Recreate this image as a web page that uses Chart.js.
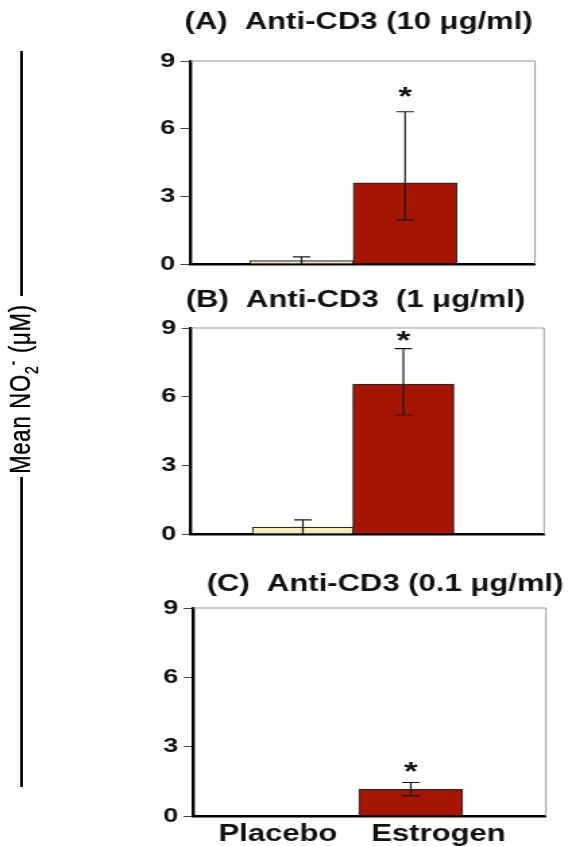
<!DOCTYPE html>
<html>
<head>
<meta charset="utf-8">
<script src="https://cdn.jsdelivr.net/npm/chart.js@4.4.1/dist/chart.umd.min.js"></script>
<style>
  html, body { margin: 0; padding: 0; background: #fff; }
  #fig { position: relative; width: 424px; height: 846px; transform: scaleX(1.349); transform-origin: 0 0; }
  #fig canvas { position: absolute; left: 0; }
  .rule { position: absolute; left: 15px; width: 2px; background: #000; }
  #ylab { position: absolute; left: 16px; top: 389px; transform: translate(-50%, -50%) rotate(-90deg);
          font: 22px "Liberation Sans", Arial, sans-serif; letter-spacing: 0.8px; white-space: nowrap; color: #000; line-height: 1;
          -webkit-text-stroke: 0.3px #000; }
  #ylab sub { font-size: 14px; }
  #ylab sup { font-size: 14px; }
</style>
</head>
<body>
<div id="fig">
  <div class="rule" style="top:51px;height:245px"></div>
  <div class="rule" style="top:477px;height:310px"></div>
  <div id="ylab">Mean NO<sub>2</sub><sup>-</sup> (μM)</div>
  <canvas id="chartA" width="424" height="280" style="top:0"></canvas>
  <canvas id="chartB" width="424" height="270" style="top:280px"></canvas>
  <canvas id="chartC" width="424" height="296" style="top:550px"></canvas>
</div>
<script>
const categories = ['Placebo', 'Estrogen'];
const yTicks = [0, 3, 6, 9];
const starred = [false, true];

/* (A) 10 ug/ml */
const meanA = [0.15, 3.6];
const highA = [0.32, 6.75];
const lowA = [0, 1.96];

/* (B) 1 ug/ml */
const meanB = [0.3, 6.55];
const highB = [0.62, 8.1];
const lowB = [0, 5.2];

/* (C) 0.1 ug/ml */
const meanC = [0, 1.15];
const highC = [0, 1.45];
const lowC = [0, 0.88];

const FONT = '"Liberation Sans", Arial, sans-serif';

const frame = {
    id: 'frame',
    beforeDatasetsDraw(chart) {
        const { ctx, chartArea: a } = chart;
        ctx.save();
        ctx.strokeStyle = '#9a9a9a';
        ctx.lineWidth = 1;
        ctx.beginPath();
        ctx.moveTo(a.left, a.top);
        ctx.lineTo(a.right, a.top);
        ctx.lineTo(a.right, a.bottom);
        ctx.stroke();
        ctx.restore();
    }
};

// error bars (asymmetric high/low) plus the significance star
const errorBars = {
    id: 'errorBars',
    afterDatasetsDraw(chart, args, opts) {
        const { ctx, scales: { x, y } } = chart;
        ctx.save();
        ctx.strokeStyle = '#1a1a1a';
        ctx.lineWidth = 1.2;
        opts.high.forEach((h, i) => {
            if (h <= 0) return;
            const px = x.getPixelForValue(i);
            const top = y.getPixelForValue(h);
            const bot = y.getPixelForValue(opts.low[i]);
            ctx.beginPath();
            ctx.moveTo(px, top);
            ctx.lineTo(px, bot);
            ctx.moveTo(px - 6.5, top);
            ctx.lineTo(px + 6.5, top);
            if (opts.low[i] > 0) {
                ctx.moveTo(px - 6.5, bot);
                ctx.lineTo(px + 6.5, bot);
            }
            ctx.stroke();
            if (starred[i]) {
                ctx.fillStyle = '#111';
                ctx.font = 'bold 26px ' + FONT;
                ctx.textAlign = 'center';
                ctx.textBaseline = 'alphabetic';
                ctx.fillText('*', px, top - opts.starGap + 12);
            }
        });
        ctx.restore();
    }
};

const panelTitle = {
    id: 'panelTitle',
    afterDraw(chart, args, opts) {
        const ctx = chart.ctx;
        ctx.save();
        ctx.font = 'bold 23px ' + FONT;
        ctx.fillStyle = '#111';
        ctx.textAlign = 'center';
        ctx.textBaseline = 'middle';
        ctx.fillText(opts.text, opts.x, opts.y);
        ctx.restore();
    }
};

function panel(id, mean, high, low, p) {
    return new Chart(document.getElementById(id), {
        type: 'bar',
        data: {
            datasets: [{
                data: mean.map((v, i) => ({ x: i, y: v })),
                backgroundColor: ['#f2eebb', '#a61500'],
                borderColor: '#2a2a2a',
                borderWidth: 1.2,
                barThickness: p.barW
            }]
        },
        options: {
            responsive: false,
            animation: false,
            layout: { padding: { top: p.top, bottom: p.bottom, left: 0, right: p.right } },
            plugins: {
                legend: { display: false },
                tooltip: { enabled: false },
                errorBars: { high, low, starGap: p.starGap },
                panelTitle: { text: p.title, x: p.tx, y: p.ty }
            },
            scales: {
                x: {
                    type: 'linear',
                    offset: false,
                    min: p.xMin,
                    max: p.xMax,
                    z: 1,
                    afterFit: s => { s.height = p.xH; },
                    afterBuildTicks: s => {
                        s.ticks = p.labelAt ? p.labelAt.map(v => ({ value: v })) : [];
                    },
                    grid: { display: false, drawTicks: false, offset: false },
                    border: { color: '#000', width: 2.5 },
                    ticks: {
                        display: !!p.labelAt,
                        autoSkip: false,
                        maxRotation: 0,
                        padding: p.labelPad || 0,
                        color: '#111',
                        font: { family: FONT, size: 23, weight: 'bold' },
                        callback: (v, i) => categories[i]
                    }
                },
                y: {
                    min: yTicks[0],
                    max: yTicks[yTicks.length - 1],
                    z: 1,
                    afterFit: s => { s.width = p.left; },
                    afterBuildTicks: s => { s.ticks = yTicks.map(v => ({ value: v })); },
                    grid: { drawOnChartArea: false, drawTicks: true, tickLength: 7, color: '#444', lineWidth: 1 },
                    border: { color: '#000', width: 2.4 },
                    ticks: {
                        padding: 4,
                        color: '#111',
                        font: { family: FONT, size: 20, weight: 'bold' }
                    }
                }
            }
        },
        plugins: [frame, errorBars, panelTitle]
    });
}

panel('chartA', meanA, highA, lowA, {
    title: '(A)  Anti-CD3 (10 μg/ml)', tx: 265.8, ty: 23,
    top: 61, bottom: 12, xH: 2, left: 140.8, right: 27.4,
    xMin: -1.077, xMax: 2.254, barW: 77, starGap: 19
});

panel('chartB', meanB, highB, lowB, {
    title: '(B)  Anti-CD3  (1 μg/ml)', tx: 263.5, ty: 21,
    top: 48, bottom: 13, xH: 2, left: 141.6, right: 20.7,
    xMin: -1.113, xMax: 2.40, barW: 75, starGap: 12
});

panel('chartC', meanC, highC, lowC, {
    title: '(C)  Anti-CD3 (0.1 μg/ml)', tx: 285.4, ty: 35,
    top: 58, bottom: 0, xH: 30, left: 143.1, right: 19.3,
    xMin: -1.096, xMax: 2.301, barW: 77, starGap: 14,
    labelAt: [-0.279, 1.266], labelPad: 5
});
</script>
</body>
</html>
